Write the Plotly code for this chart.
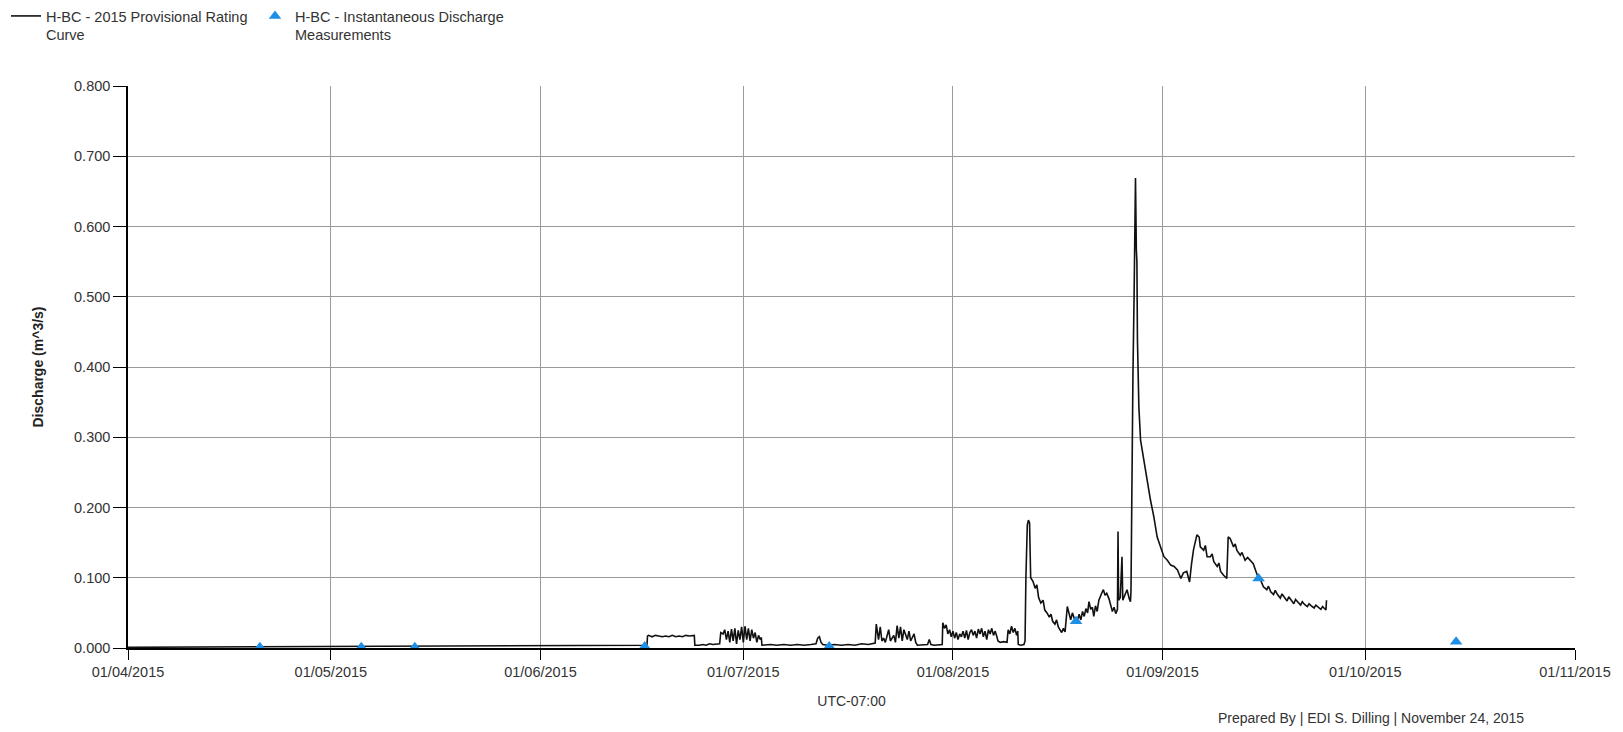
import plotly.graph_objects as go

# H-BC 2015 provisional rating curve: (timestamp, discharge m^3/s)
rating_curve = [
    ("2015-04-01 00:00", 0.001), ("2015-06-16 18:00", 0.004),
    ("2015-06-16 20:00", 0.017), ("2015-06-17 00:00", 0.018), ("2015-06-17 12:00", 0.016),
    ("2015-06-18 00:00", 0.018), ("2015-06-18 12:00", 0.017), ("2015-06-19 00:00", 0.016),
    ("2015-06-19 12:00", 0.017), ("2015-06-20 00:00", 0.016), ("2015-06-20 12:00", 0.018),
    ("2015-06-21 00:00", 0.016), ("2015-06-21 12:00", 0.017), ("2015-06-22 00:00", 0.016),
    ("2015-06-22 12:00", 0.018), ("2015-06-23 00:00", 0.017), ("2015-06-23 18:00", 0.018),
    ("2015-06-23 20:00", 0.004), ("2015-06-24 12:00", 0.004), ("2015-06-25 00:00", 0.005),
    ("2015-06-25 12:00", 0.004), ("2015-06-26 00:00", 0.006), ("2015-06-26 12:00", 0.005),
    ("2015-06-27 00:00", 0.005), ("2015-06-27 12:00", 0.006), ("2015-06-27 16:00", 0.022),
    ("2015-06-28 00:00", 0.020), ("2015-06-28 06:00", 0.026), ("2015-06-28 12:00", 0.012),
    ("2015-06-28 18:00", 0.024), ("2015-06-29 00:00", 0.008), ("2015-06-29 06:00", 0.027),
    ("2015-06-29 12:00", 0.010), ("2015-06-29 18:00", 0.028), ("2015-06-30 00:00", 0.006),
    ("2015-06-30 06:00", 0.025), ("2015-06-30 12:00", 0.012), ("2015-06-30 18:00", 0.030),
    ("2015-07-01 00:00", 0.008), ("2015-07-01 06:00", 0.031), ("2015-07-01 12:00", 0.012),
    ("2015-07-01 18:00", 0.028), ("2015-07-02 00:00", 0.010), ("2015-07-02 06:00", 0.026),
    ("2015-07-02 12:00", 0.014), ("2015-07-02 18:00", 0.022), ("2015-07-03 00:00", 0.008),
    ("2015-07-03 06:00", 0.018), ("2015-07-03 12:00", 0.012), ("2015-07-03 16:00", 0.015),
    ("2015-07-03 18:00", 0.004), ("2015-07-05 00:00", 0.005), ("2015-07-06 00:00", 0.004),
    ("2015-07-07 00:00", 0.005), ("2015-07-08 00:00", 0.004), ("2015-07-09 00:00", 0.005),
    ("2015-07-10 00:00", 0.004), ("2015-07-11 00:00", 0.005), ("2015-07-11 18:00", 0.006),
    ("2015-07-12 00:00", 0.014), ("2015-07-12 06:00", 0.016), ("2015-07-12 12:00", 0.008),
    ("2015-07-12 18:00", 0.005), ("2015-07-13 12:00", 0.004), ("2015-07-14 12:00", 0.005),
    ("2015-07-15 12:00", 0.004), ("2015-07-16 12:00", 0.005), ("2015-07-17 12:00", 0.004),
    ("2015-07-18 12:00", 0.006), ("2015-07-19 12:00", 0.005), ("2015-07-20 06:00", 0.006),
    ("2015-07-20 12:00", 0.007), ("2015-07-20 16:00", 0.034), ("2015-07-21 00:00", 0.012),
    ("2015-07-21 06:00", 0.030), ("2015-07-21 12:00", 0.010), ("2015-07-21 18:00", 0.014),
    ("2015-07-22 00:00", 0.008), ("2015-07-22 12:00", 0.026), ("2015-07-22 18:00", 0.010),
    ("2015-07-23 06:00", 0.018), ("2015-07-23 12:00", 0.008), ("2015-07-23 18:00", 0.032),
    ("2015-07-24 00:00", 0.014), ("2015-07-24 06:00", 0.030), ("2015-07-24 12:00", 0.010),
    ("2015-07-24 18:00", 0.026), ("2015-07-25 06:00", 0.012), ("2015-07-25 12:00", 0.024),
    ("2015-07-25 18:00", 0.010), ("2015-07-26 06:00", 0.020), ("2015-07-26 12:00", 0.008),
    ("2015-07-26 18:00", 0.004), ("2015-07-27 12:00", 0.004), ("2015-07-28 06:00", 0.005),
    ("2015-07-28 12:00", 0.012), ("2015-07-28 18:00", 0.005), ("2015-07-29 06:00", 0.004),
    ("2015-07-30 10:00", 0.005), ("2015-07-30 12:00", 0.036), ("2015-07-30 18:00", 0.028),
    ("2015-07-31 00:00", 0.033), ("2015-07-31 06:00", 0.020), ("2015-07-31 12:00", 0.026),
    ("2015-07-31 18:00", 0.016), ("2015-08-01 00:00", 0.024), ("2015-08-01 06:00", 0.014),
    ("2015-08-01 12:00", 0.022), ("2015-08-01 18:00", 0.012), ("2015-08-02 00:00", 0.020),
    ("2015-08-02 06:00", 0.016), ("2015-08-02 12:00", 0.024), ("2015-08-02 18:00", 0.014),
    ("2015-08-03 00:00", 0.025), ("2015-08-03 06:00", 0.012), ("2015-08-03 12:00", 0.022),
    ("2015-08-03 18:00", 0.026), ("2015-08-04 00:00", 0.018), ("2015-08-04 06:00", 0.024),
    ("2015-08-04 12:00", 0.014), ("2015-08-04 18:00", 0.027), ("2015-08-05 00:00", 0.020),
    ("2015-08-05 06:00", 0.028), ("2015-08-05 12:00", 0.016), ("2015-08-05 18:00", 0.024),
    ("2015-08-06 00:00", 0.012), ("2015-08-06 06:00", 0.026), ("2015-08-06 12:00", 0.020),
    ("2015-08-06 18:00", 0.028), ("2015-08-07 00:00", 0.018), ("2015-08-07 06:00", 0.024),
    ("2015-08-07 12:00", 0.016), ("2015-08-07 16:00", 0.010), ("2015-08-08 00:00", 0.008),
    ("2015-08-08 12:00", 0.009), ("2015-08-09 00:00", 0.008), ("2015-08-09 04:00", 0.026),
    ("2015-08-09 10:00", 0.020), ("2015-08-09 16:00", 0.031), ("2015-08-09 22:00", 0.022),
    ("2015-08-10 04:00", 0.028), ("2015-08-10 10:00", 0.018), ("2015-08-10 14:00", 0.024),
    ("2015-08-10 16:00", 0.005), ("2015-08-11 00:00", 0.004), ("2015-08-11 12:00", 0.005),
    ("2015-08-11 16:00", 0.010), ("2015-08-11 19:00", 0.100), ("2015-08-12 00:00", 0.175),
    ("2015-08-12 04:00", 0.182), ("2015-08-12 08:00", 0.178), ("2015-08-12 12:00", 0.100),
    ("2015-08-12 20:00", 0.095), ("2015-08-13 04:00", 0.085), ("2015-08-13 10:00", 0.090),
    ("2015-08-13 16:00", 0.072), ("2015-08-14 00:00", 0.064), ("2015-08-14 08:00", 0.068),
    ("2015-08-14 14:00", 0.054), ("2015-08-14 22:00", 0.050), ("2015-08-15 06:00", 0.044),
    ("2015-08-15 12:00", 0.048), ("2015-08-15 18:00", 0.038), ("2015-08-16 02:00", 0.034),
    ("2015-08-16 08:00", 0.040), ("2015-08-16 14:00", 0.030), ("2015-08-16 20:00", 0.026),
    ("2015-08-17 02:00", 0.022), ("2015-08-17 08:00", 0.028), ("2015-08-17 14:00", 0.023),
    ("2015-08-17 22:00", 0.059), ("2015-08-18 04:00", 0.048), ("2015-08-18 10:00", 0.040),
    ("2015-08-18 16:00", 0.050), ("2015-08-18 22:00", 0.042), ("2015-08-19 04:00", 0.036),
    ("2015-08-19 10:00", 0.040), ("2015-08-19 16:00", 0.048), ("2015-08-19 22:00", 0.040),
    ("2015-08-20 04:00", 0.052), ("2015-08-20 10:00", 0.045), ("2015-08-20 16:00", 0.056),
    ("2015-08-20 22:00", 0.050), ("2015-08-21 03:00", 0.066), ("2015-08-21 09:00", 0.055),
    ("2015-08-21 15:00", 0.058), ("2015-08-21 20:00", 0.045), ("2015-08-22 02:00", 0.060),
    ("2015-08-22 08:00", 0.052), ("2015-08-22 14:00", 0.068), ("2015-08-23 00:00", 0.078),
    ("2015-08-23 06:00", 0.083), ("2015-08-23 12:00", 0.075), ("2015-08-23 18:00", 0.078),
    ("2015-08-24 02:00", 0.070), ("2015-08-24 08:00", 0.060), ("2015-08-24 14:00", 0.052),
    ("2015-08-24 20:00", 0.058), ("2015-08-25 02:00", 0.049), ("2015-08-25 08:00", 0.055),
    ("2015-08-25 10:00", 0.166), ("2015-08-25 12:00", 0.068), ("2015-08-25 18:00", 0.072),
    ("2015-08-26 00:00", 0.130), ("2015-08-26 03:00", 0.068), ("2015-08-26 10:00", 0.075),
    ("2015-08-26 18:00", 0.083), ("2015-08-27 02:00", 0.070), ("2015-08-27 06:00", 0.066),
    ("2015-08-27 08:00", 0.080), ("2015-08-27 10:00", 0.215), ("2015-08-27 12:00", 0.220),
    ("2015-08-27 15:00", 0.391), ("2015-08-27 19:00", 0.500), ("2015-08-27 21:00", 0.640),
    ("2015-08-27 22:00", 0.600), ("2015-08-28 00:00", 0.669), ("2015-08-28 03:00", 0.567),
    ("2015-08-28 05:00", 0.550), ("2015-08-28 07:00", 0.438), ("2015-08-28 09:00", 0.400),
    ("2015-08-28 12:00", 0.343), ("2015-08-28 18:00", 0.296), ("2015-08-29 05:00", 0.268),
    ("2015-08-29 17:00", 0.235), ("2015-08-30 05:00", 0.211), ("2015-08-30 17:00", 0.187),
    ("2015-08-31 05:00", 0.158), ("2015-08-31 21:00", 0.139), ("2015-09-01 05:00", 0.130),
    ("2015-09-01 17:00", 0.125), ("2015-09-02 05:00", 0.118), ("2015-09-02 17:00", 0.116),
    ("2015-09-03 05:00", 0.111), ("2015-09-03 17:00", 0.099), ("2015-09-04 02:00", 0.107),
    ("2015-09-04 14:00", 0.109), ("2015-09-05 00:00", 0.094), ("2015-09-05 07:00", 0.120),
    ("2015-09-05 14:00", 0.140), ("2015-09-06 02:00", 0.161), ("2015-09-06 10:00", 0.158),
    ("2015-09-06 14:00", 0.144), ("2015-09-07 02:00", 0.139), ("2015-09-07 08:00", 0.146),
    ("2015-09-07 14:00", 0.130), ("2015-09-08 02:00", 0.130), ("2015-09-08 08:00", 0.134),
    ("2015-09-08 14:00", 0.123), ("2015-09-09 02:00", 0.116), ("2015-09-09 08:00", 0.121),
    ("2015-09-09 14:00", 0.109), ("2015-09-10 00:00", 0.104), ("2015-09-10 12:00", 0.099),
    ("2015-09-10 17:00", 0.158), ("2015-09-11 00:00", 0.156), ("2015-09-11 12:00", 0.144),
    ("2015-09-11 18:00", 0.148), ("2015-09-12 00:00", 0.139), ("2015-09-12 12:00", 0.132),
    ("2015-09-12 18:00", 0.136), ("2015-09-13 05:00", 0.125), ("2015-09-13 14:00", 0.129),
    ("2015-09-14 00:00", 0.125), ("2015-09-14 10:00", 0.120), ("2015-09-15 00:00", 0.104),
    ("2015-09-15 12:00", 0.097), ("2015-09-15 22:00", 0.087), ("2015-09-16 10:00", 0.083),
    ("2015-09-16 16:00", 0.088), ("2015-09-17 00:00", 0.080), ("2015-09-17 10:00", 0.076),
    ("2015-09-17 16:00", 0.082), ("2015-09-18 00:00", 0.076), ("2015-09-18 10:00", 0.071),
    ("2015-09-18 16:00", 0.077), ("2015-09-19 00:00", 0.072), ("2015-09-19 10:00", 0.067),
    ("2015-09-19 16:00", 0.073), ("2015-09-20 00:00", 0.068), ("2015-09-20 10:00", 0.063),
    ("2015-09-20 16:00", 0.069), ("2015-09-21 00:00", 0.065), ("2015-09-21 10:00", 0.061),
    ("2015-09-21 16:00", 0.066), ("2015-09-22 00:00", 0.062), ("2015-09-22 10:00", 0.059),
    ("2015-09-22 16:00", 0.063), ("2015-09-23 00:00", 0.060), ("2015-09-23 10:00", 0.057),
    ("2015-09-23 16:00", 0.061), ("2015-09-24 00:00", 0.058), ("2015-09-24 10:00", 0.055),
    ("2015-09-24 16:00", 0.059), ("2015-09-25 00:00", 0.056), ("2015-09-25 04:00", 0.054),
    ("2015-09-25 06:00", 0.068),
]
curve_time = [t for t, _ in rating_curve]
curve_q = [q for _, q in rating_curve]

# Instantaneous discharge measurements
meas_time = [
    "2015-04-20 12:00", "2015-05-05 12:00", "2015-05-13 10:00", "2015-06-16 10:00",
    "2015-07-13 17:00", "2015-08-19 05:00", "2015-09-15 05:00", "2015-10-14 10:00",
]
meas_q = [0.001, 0.001, 0.001, 0.002, 0.002, 0.038, 0.099, 0.009]

month_ticks = ["2015-04-01", "2015-05-01", "2015-06-01", "2015-07-01",
               "2015-08-01", "2015-09-01", "2015-10-01", "2015-11-01"]
month_labels = ["01/04/2015", "01/05/2015", "01/06/2015", "01/07/2015",
                "01/08/2015", "01/09/2015", "01/10/2015", "01/11/2015"]
q_ticks = [0.0, 0.1, 0.2, 0.3, 0.4, 0.5, 0.6, 0.7, 0.8]

FONT = "Liberation Sans, Arial, sans-serif"
TEXT = "#333333"


def legend_box(x_px):
    """Top-left legend block anchored at a pixel offset from the page's left edge."""
    return dict(
        orientation="h", x=x_px / 1623, y=1, xref="container", yref="container",
        xanchor="left", yanchor="top", valign="top", itemwidth=30,
        font=dict(family=FONT, size=14.5, color=TEXT),
        bgcolor="rgba(0,0,0,0)",
    )


fig = go.Figure()
fig.add_trace(go.Scatter(
    x=curve_time, y=curve_q, mode="lines",
    name="H-BC - 2015 Provisional Rating<br>Curve",
    line=dict(color="#111111", width=1.6),
    legend="legend",
))
fig.add_trace(go.Scatter(
    x=meas_time, y=meas_q, mode="markers",
    name="H-BC - Instantaneous Discharge<br>Measurements",
    marker=dict(symbol="triangle-up", size=11, color="#1f8fe5"),
    legend="legend2",
))

fig.update_layout(
    width=1623, height=732,
    margin=dict(l=128, r=44, t=86, b=84),
    paper_bgcolor="white", plot_bgcolor="white",
    font=dict(family=FONT, size=14, color=TEXT),
    showlegend=True,
    legend=legend_box(6),
    legend2=legend_box(255),
    xaxis=dict(
        type="date", range=["2015-04-01", "2015-11-01"],
        tickvals=month_ticks, ticktext=month_labels,
        showgrid=True, gridcolor="#9a9a9a", gridwidth=1,
        showline=True, linecolor="black", linewidth=1.5,
        ticks="outside", ticklen=10, tickcolor="black",
        tickfont=dict(family=FONT, size=14.5, color=TEXT),
        title=dict(text="UTC-07:00", font=dict(family=FONT, size=14, color=TEXT), standoff=17),
        zeroline=False,
    ),
    yaxis=dict(
        range=[0, 0.8], tickvals=q_ticks, tickformat=".3f",
        showgrid=True, gridcolor="#9a9a9a", gridwidth=1,
        showline=True, linecolor="black", linewidth=1.5,
        ticks="outside", ticklen=13, tickcolor="black",
        tickfont=dict(family=FONT, size=14.5, color=TEXT),
        title=dict(text="<b>Discharge (m^3/s)</b>", font=dict(family=FONT, size=14, color="#222222"), standoff=27),
        zeroline=False,
    ),
    annotations=[dict(
        text="Prepared By | EDI S. Dilling | November 24, 2015",
        xref="paper", yref="paper", x=0.966, y=-0.1246, xanchor="right", yanchor="middle",
        showarrow=False, font=dict(family=FONT, size=14, color=TEXT),
    )],
)

fig.write_html("out.html")
